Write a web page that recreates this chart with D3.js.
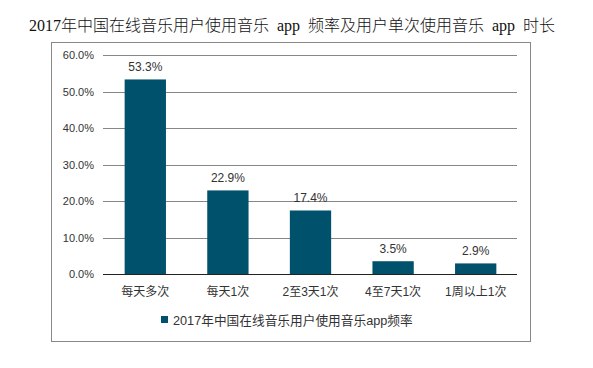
<!DOCTYPE html>
<html>
<head>
<meta charset="utf-8">
<script src="https://cdn.jsdelivr.net/npm/d3@7"></script>
<style>
body { margin: 0; background: #fff; }
</style>
</head>
<body>
<script>
var w = 593;
var h = 368;

// data
var categories = ["每天多次", "每天1次", "2至3天1次", "4至7天1次", "1周以上1次"];
var values = [53.3, 22.9, 17.4, 3.5, 2.9];
var yTicks = [0, 10, 20, 30, 40, 50, 60];
var seriesName = "2017年中国在线音乐用户使用音乐app频率";
var title = "2017年中国在线音乐用户使用音乐  app  频率及用户单次使用音乐  app  时长";

var barColor = "#00516b";
var textColor = "#333";
var sans = "'Liberation Sans', Arial, 'Noto Sans CJK SC', sans-serif";

var svg = d3.select("body")
    .append("svg")
    .attr("width", w)
    .attr("height", h);

//title
svg.append("text")
    .attr("x", 29)
    .attr("y", 31)
    .attr("textLength", 526)
    .attr("lengthAdjust", "spacing")
    .style("white-space", "pre")
    .style("font-family", "'Liberation Serif', 'Noto Sans CJK SC', serif")
    .style("font-size", "16px")
    .style("font-weight", 300)
    .style("fill", "#111")
    .text(title);

//frame
svg.append("rect")
    .attr("x", 51.5)
    .attr("y", 42.5)
    .attr("width", 479)
    .attr("height", 299)
    .style("fill", "none")
    .style("stroke", "#888")
    .style("stroke-width", 1);

//scales
var x = d3.scaleBand()
    .domain(categories)
    .range([104, 517])
    .paddingInner(0.5)
    .paddingOuter(0.25);

var y = d3.scaleLinear()
    .domain([0, 60])
    .range([274, 55]);

//gridlines
svg.selectAll("line.grid")
    .data(yTicks.slice(1))
    .enter()
    .append("line")
    .attr("class", "grid")
    .attr("x1", 103)
    .attr("x2", 517)
    .attr("y1", function (d) { return Math.round(y(d)) + 0.5; })
    .attr("y2", function (d) { return Math.round(y(d)) + 0.5; })
    .style("stroke", "#878787")
    .style("stroke-width", 1);

//y axis labels
var yAxis = d3.axisLeft(y)
    .tickValues(yTicks)
    .tickSize(0)
    .tickPadding(0)
    .tickFormat(function (d) { return d.toFixed(1) + "%"; });

var gy = svg.append("g")
    .attr("transform", "translate(94,0)")
    .call(yAxis);
gy.select(".domain").remove();
gy.selectAll("text")
    .style("font-family", sans)
    .style("font-size", "11px")
    .style("fill", textColor);

//bars
svg.selectAll("rect.bar")
    .data(values)
    .enter()
    .append("rect")
    .attr("class", "bar")
    .attr("x", function (d, i) { return x(categories[i]); })
    .attr("y", function (d) { return y(d); })
    .attr("width", x.bandwidth())
    .attr("height", function (d) { return y(0) - y(d); })
    .style("fill", barColor);

//value labels
svg.selectAll("text.val")
    .data(values)
    .enter()
    .append("text")
    .attr("class", "val")
    .attr("x", function (d, i) { return x(categories[i]) + x.bandwidth() / 2; })
    .attr("y", function (d) { return y(d) - 8; })
    .attr("text-anchor", "middle")
    .style("font-family", sans)
    .style("font-size", "12px")
    .style("fill", textColor)
    .text(function (d) { return d.toFixed(1) + "%"; });

//x axis
var xAxis = d3.axisBottom(x)
    .tickSize(0)
    .tickPadding(0);

var gx = svg.append("g")
    .attr("transform", "translate(0," + 274 + ")")
    .call(xAxis);
gx.select(".domain").remove();
gx.append("line")
    .attr("x1", 103)
    .attr("x2", 517)
    .attr("y1", 0.5)
    .attr("y2", 0.5)
    .style("stroke", "#222")
    .style("stroke-width", 1);
gx.selectAll(".tick text")
    .attr("dy", null)
    .attr("y", 22)
    .style("font-family", sans)
    .style("font-size", "12px")
    .style("fill", textColor);

//legend
svg.append("rect")
    .attr("x", 161)
    .attr("y", 316)
    .attr("width", 7)
    .attr("height", 7)
    .style("fill", barColor);

svg.append("text")
    .attr("x", 173)
    .attr("y", 325)
    .style("font-family", sans)
    .style("font-size", "12.7px")
    .style("fill", textColor)
    .text(seriesName);
</script>
</body>
</html>
